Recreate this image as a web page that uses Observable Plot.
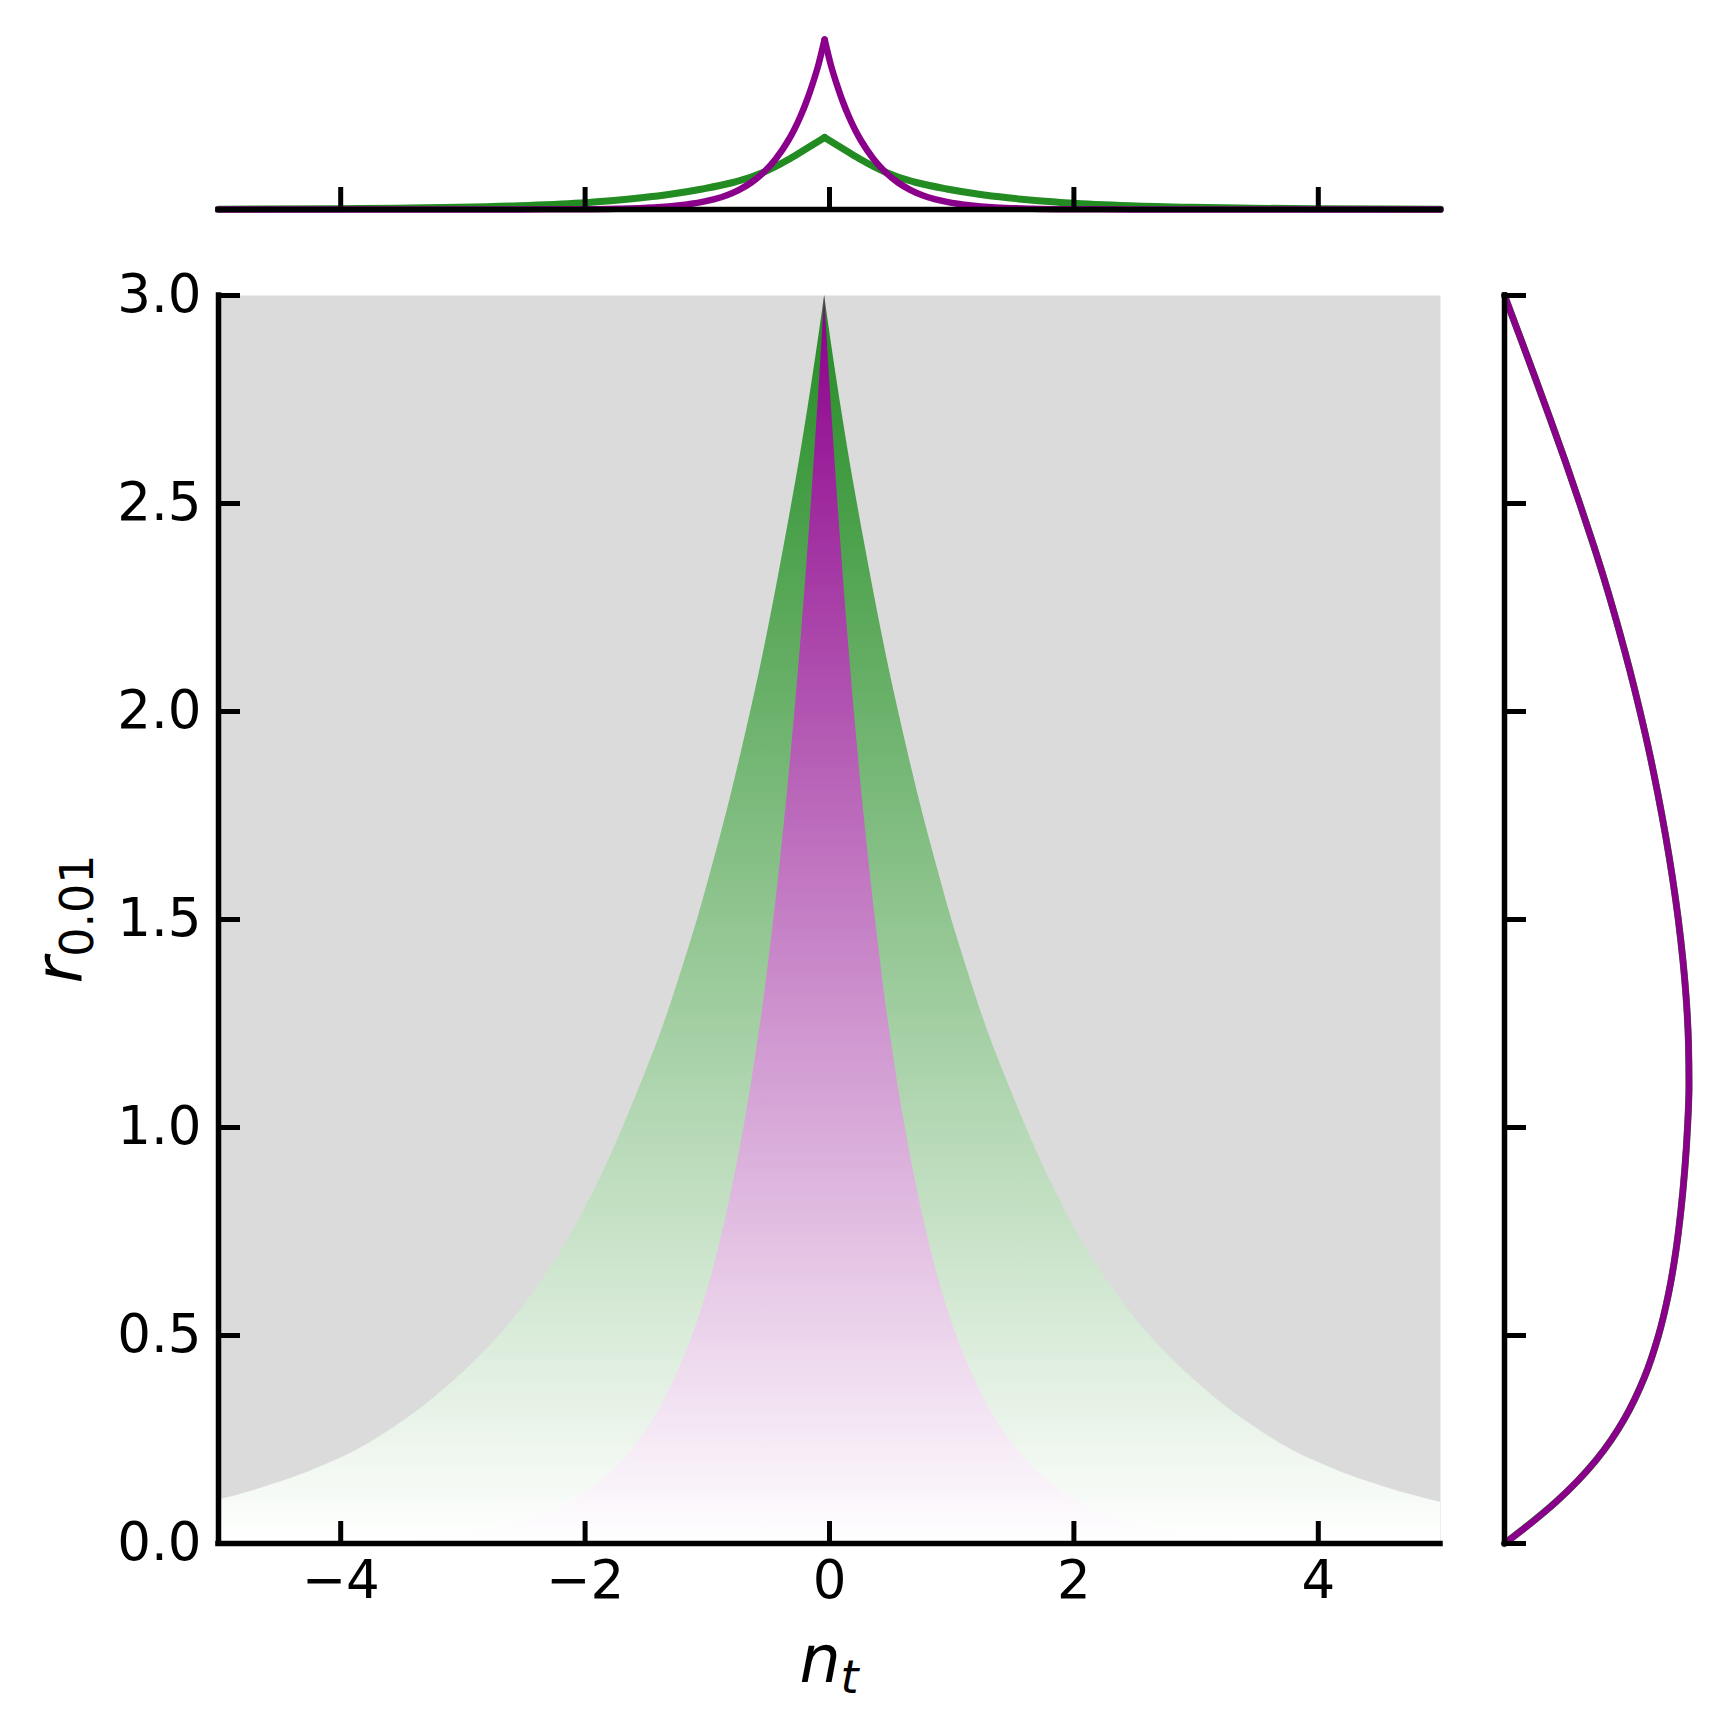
<!DOCTYPE html>
<html><head><meta charset="utf-8">
<script src="https://cdn.jsdelivr.net/npm/d3@7"></script>
<script src="https://cdn.jsdelivr.net/npm/@observablehq/plot@0.6"></script>
<style>
body{margin:0;background:#fff;}
#wrap{position:relative;width:1726px;height:1727px;background:#fff;overflow:hidden;}
#wrap svg{position:absolute;}
</style></head><body><div id="wrap"></div>
<script>
// ---------- data ----------
const xTicks = [-4, -2, 0, 2, 4];
const yTicks = [0, 0.5, 1.0, 1.5, 2.0, 2.5, 3.0];
const center = -0.04;            // n_t position of the cusp

// main panel: half-width (in n_t) of the green and purple regions at each r
const rGrid      = [0, 0.025, 0.05, 0.075, 0.1, 0.15, 0.2, 0.3, 0.4, 0.5, 0.6, 0.7, 0.8, 0.9, 1.0, 1.1, 1.2, 1.3, 1.4, 1.5, 1.6, 1.7, 1.8, 1.9, 2.0, 2.1, 2.2, 2.3, 2.4, 2.5, 2.6, 2.7, 2.8, 2.9, 3.0];
const greenHalf  = [8.0, 7.1, 6.05, 5.45, 5.03, 4.43, 4.0, 3.42, 3.0, 2.66, 2.39, 2.16, 1.97, 1.80, 1.65, 1.51, 1.375, 1.255, 1.145, 1.04, 0.945, 0.852, 0.765, 0.683, 0.605, 0.53, 0.46, 0.394, 0.33, 0.268, 0.208, 0.152, 0.099, 0.048, 0];
const purpleHalf = [3.6, 2.9, 2.48, 2.24, 2.07, 1.83, 1.65, 1.40, 1.22, 1.08, 0.968, 0.875, 0.795, 0.724, 0.66, 0.602, 0.55, 0.50, 0.457, 0.416, 0.377, 0.341, 0.306, 0.274, 0.243, 0.214, 0.186, 0.159, 0.134, 0.109, 0.086, 0.063, 0.041, 0.02, 0];

// top marginal (density of n_t)
const greenTopN  = [-5.0, -4.04, -3.54, -3.04, -2.54, -2.04, -1.79, -1.54, -1.29, -1.04, -0.79, -0.64, -0.54, -0.44, -0.34, -0.24, -0.14, -0.04, 0.06, 0.16, 0.26, 0.36, 0.46, 0.56, 0.71, 0.96, 1.21, 1.46, 1.71, 1.96, 2.46, 2.96, 3.46, 3.96, 5.0];
const greenTopD  = [0.003, 0.008, 0.013, 0.022, 0.038, 0.066, 0.088, 0.117, 0.155, 0.205, 0.27, 0.325, 0.372, 0.43, 0.497, 0.57, 0.645, 0.72, 0.645, 0.57, 0.497, 0.43, 0.372, 0.325, 0.27, 0.205, 0.155, 0.117, 0.088, 0.066, 0.038, 0.022, 0.013, 0.008, 0.003];
const purpleTopN = [-5.0, -3.04, -2.54, -2.04, -1.74, -1.44, -1.24, -1.04, -0.94, -0.84, -0.74, -0.64, -0.54, -0.44, -0.34, -0.29, -0.24, -0.19, -0.14, -0.09, -0.04, 0.01, 0.06, 0.11, 0.16, 0.21, 0.26, 0.36, 0.46, 0.56, 0.66, 0.76, 0.86, 0.96, 1.16, 1.36, 1.66, 1.96, 2.46, 2.96, 5.0];
const purpleTopD = [0, 0, 0.001, 0.003, 0.008, 0.021, 0.04, 0.076, 0.104, 0.143, 0.197, 0.27, 0.37, 0.505, 0.685, 0.795, 0.925, 1.075, 1.25, 1.45, 1.70, 1.45, 1.25, 1.075, 0.925, 0.795, 0.685, 0.505, 0.37, 0.27, 0.197, 0.143, 0.104, 0.076, 0.04, 0.021, 0.008, 0.003, 0.001, 0, 0];

// right marginal (density of r)
const purpleRightR = [0, 0.05, 0.1, 0.15, 0.2, 0.25, 0.3, 0.4, 0.5, 0.6, 0.7, 0.8, 0.9, 1.0, 1.1, 1.2, 1.3, 1.4, 1.5, 1.6, 1.7, 1.8, 1.9, 2.0, 2.1, 2.2, 2.3, 2.4, 2.5, 2.6, 2.7, 2.8, 2.9, 3.0];
const purpleRightD = [0, 0.27, 0.515, 0.73, 0.915, 1.07, 1.20, 1.40, 1.54, 1.64, 1.712, 1.764, 1.803, 1.830, 1.845, 1.840, 1.820, 1.785, 1.738, 1.680, 1.612, 1.535, 1.450, 1.355, 1.252, 1.140, 1.020, 0.890, 0.752, 0.610, 0.462, 0.310, 0.156, 0];
const greenRightR  = [0, 0.1, 0.15, 0.2, 0.25, 0.3, 0.4, 0.5, 0.6, 0.7, 0.8, 0.9, 1.0, 1.1, 1.2, 1.3, 1.4, 1.5, 1.6, 1.7, 1.8, 1.9, 2.0, 2.1, 2.2, 2.3, 2.4, 2.5, 2.6, 2.7, 2.8, 2.9, 3.0];
const greenRightD  = [0, 0.515, 0.73, 0.915, 1.07, 1.20, 1.40, 1.54, 1.64, 1.712, 1.764, 1.803, 1.830, 1.845, 1.840, 1.820, 1.785, 1.738, 1.680, 1.612, 1.535, 1.450, 1.355, 1.252, 1.140, 1.020, 0.890, 0.752, 0.610, 0.462, 0.310, 0.156, 0];

const GREEN = "#228b22", PURPLE = "#8b008b", GRAY = "#dbdbdb";

// ---------- helpers ----------
const fmtX = d => d < 0 ? "\u2212" + (-d) : String(d);
function branches(ns, ds) {
  const k = d3.maxIndex(ds);
  const out = [];
  ns.forEach((n, i) => {
    if (i <= k) out.push({n, d: ds[i], side: "L"});
    if (i >= k) out.push({n, d: ds[i], side: "R"});
  });
  return out;
}
const wrap = document.getElementById("wrap");
const baseStyle = {fontFamily: "'DejaVu Sans'", fontSize: "53px", color: "black", background: "transparent", overflow: "visible"};

// ---------- top marginal ----------
const topPlot = Plot.plot({
  width: 1480, height: 240, marginLeft: 218, marginRight: 40, marginTop: 36, marginBottom: 31,
  style: baseStyle,
  x: {domain: [-5, 5]},
  y: {domain: [0, 1.73], axis: null},
  marks: [
    Plot.line(branches(greenTopN, greenTopD), {x: "n", y: "d", z: "side", stroke: GREEN, strokeWidth: 7, curve: "monotone-x"}),
    Plot.line(branches(purpleTopN, purpleTopD), {x: "n", y: "d", z: "side", stroke: PURPLE, strokeWidth: 6.5, curve: "monotone-x"}),
    Plot.axisX({ticks: xTicks, tickSize: -22, tickFormat: () => "", label: null, strokeWidth: 5}),
    Plot.ruleY([0], {strokeWidth: 5.5, strokeLinecap: "square"})
  ]
});
topPlot.style.left = "0px"; topPlot.style.top = "0px";
wrap.appendChild(topPlot);

// ---------- main panel ----------
const rows = rGrid.map((r, i) => ({r, g: greenHalf[i], p: purpleHalf[i]}));
const mainPlot = Plot.plot({
  width: 1480, height: 1487, marginLeft: 218, marginRight: 40, marginTop: 55, marginBottom: 184,
  style: baseStyle,
  x: {domain: [-5, 5]},
  y: {domain: [0, 3]},
  marks: [
    Plot.frame({fill: GRAY, stroke: "none"}),
    Plot.areaX(rows, {y: "r", x1: d => center - d.g, x2: d => center + d.g, fill: "url(#gradGreen)", curve: "monotone-y", clip: true}),
    Plot.areaX(rows, {y: "r", x1: d => center - d.p, x2: d => center + d.p, fill: "url(#gradPurple)", curve: "monotone-y", clip: true}),
    Plot.axisX({ticks: xTicks, tickSize: -22, tickPadding: 39, tickFormat: fmtX, label: null, strokeWidth: 5}),
    Plot.axisY({ticks: yTicks, tickSize: -22, tickPadding: 39, tickFormat: d3.format(".1f"), label: null, strokeWidth: 5}),
    Plot.ruleX([-5], {strokeWidth: 5.5, strokeLinecap: "square"}),
    Plot.ruleY([0], {strokeWidth: 5.5, strokeLinecap: "square"})
  ]
});
mainPlot.style.left = "0px"; mainPlot.style.top = "240px";
wrap.appendChild(mainPlot);

{
  const ys = mainPlot.scale("y"), xs = mainPlot.scale("x");
  const svg = d3.select(mainPlot);
  const defs = svg.insert("defs", ":first-child");
  const grad = (id, color) => {
    const g = defs.append("linearGradient").attr("id", id).attr("gradientUnits", "userSpaceOnUse")
      .attr("x1", 0).attr("x2", 0).attr("y1", ys.apply(3)).attr("y2", ys.apply(0));
    g.append("stop").attr("offset", 0).attr("stop-color", color);
    g.append("stop").attr("offset", 1).attr("stop-color", "#ffffff");
  };
  grad("gradGreen", GREEN);
  grad("gradPurple", PURPLE);

  const cx = (xs.apply(-5) + xs.apply(5)) / 2;
  const cy = (ys.apply(0) + ys.apply(3)) / 2;
  const xl = svg.append("text").attr("x", cx).attr("y", ys.apply(0) + 139)
    .attr("text-anchor", "middle").attr("font-family", "DejaVu Sans").attr("font-size", 65).attr("fill", "black");
  xl.append("tspan").attr("font-style", "italic").text("n");
  xl.append("tspan").attr("font-style", "italic").attr("font-size", 46).attr("dy", 11).text("t");

  const yl = svg.append("text").attr("transform", `translate(82,${cy}) rotate(-90)`)
    .attr("text-anchor", "middle").attr("font-family", "DejaVu Sans").attr("font-size", 65).attr("fill", "black");
  yl.append("tspan").attr("font-style", "italic").text("r");
  yl.append("tspan").attr("font-size", 46).attr("dy", 11).text("0.01");
}

// ---------- right marginal ----------
const rightPlot = Plot.plot({
  width: 246, height: 1487, marginLeft: 24, marginRight: 35, marginTop: 55, marginBottom: 184,
  style: baseStyle,
  x: {domain: [0, 1.87], axis: null},
  y: {domain: [0, 3]},
  marks: [
    Plot.line(greenRightR.map((r, i) => ({r, d: greenRightD[i]})), {x: "d", y: "r", stroke: GREEN, strokeWidth: 7, curve: "monotone-y"}),
    Plot.line(purpleRightR.map((r, i) => ({r, d: purpleRightD[i]})), {x: "d", y: "r", stroke: PURPLE, strokeWidth: 6.5, curve: "monotone-y"}),
    Plot.axisY({ticks: yTicks, tickSize: -22, tickFormat: () => "", label: null, strokeWidth: 5}),
    Plot.ruleX([0], {strokeWidth: 5.5, strokeLinecap: "square"})
  ]
});
rightPlot.style.left = "1480px"; rightPlot.style.top = "240px";
wrap.appendChild(rightPlot);
</script></body></html>
